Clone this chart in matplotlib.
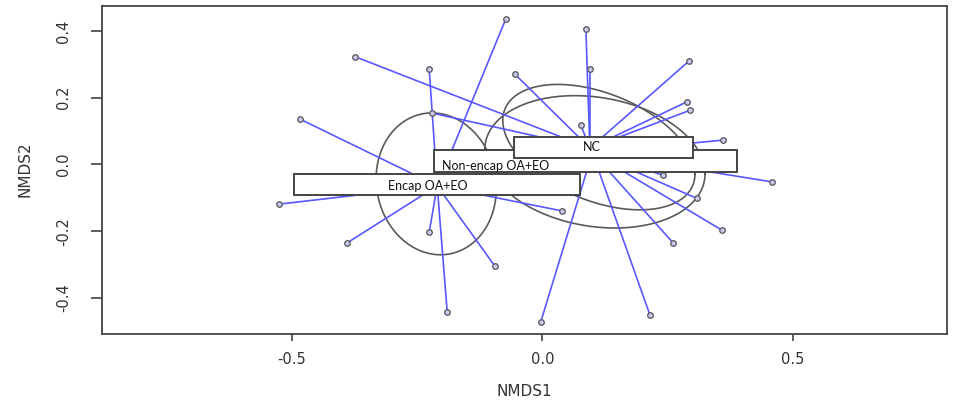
import matplotlib
matplotlib.use('Agg')
import matplotlib.pyplot as plt
import numpy as np
from matplotlib.patches import Rectangle

# ---------------- data ----------------
group_names = ["Encap OA+EO", "Non-encap OA+EO", "NC"]

encap_x = [-0.073, -0.226, -0.484, -0.527, -0.391, -0.226, -0.095, -0.190, 0.039]
encap_y = [0.436, 0.286, 0.136, -0.119, -0.236, -0.203, -0.304, -0.442, -0.139]

nonencap_x = [0.360, 0.458, 0.241, -0.003, 0.215, 0.262, 0.358, 0.308]
nonencap_y = [0.073, -0.052, -0.032, -0.471, -0.451, -0.236, -0.196, -0.101]

nc_x = [-0.374, -0.055, 0.087, 0.095, 0.077, -0.220, 0.293, 0.289, 0.296]
nc_y = [0.323, 0.271, 0.406, 0.286, 0.118, 0.154, 0.310, 0.188, 0.163]

# spider centroids
centroid_x = [-0.210, 0.100, 0.095]
centroid_y = [-0.064, 0.035, 0.049]

# ellipse centres, semi-axes and shear
ell_cx = [-0.212, 0.105, 0.113]
ell_cy = [-0.058, 0.008, 0.052]
ell_ax = [0.120, 0.220, 0.192]
ell_ay = [0.212, 0.195, 0.170]
ell_shear = [-0.015, -0.036, -0.080]

x_ticks = [-0.5, 0.0, 0.5]
x_ticklabels = ["-0.5", "0.0", "0.5"]
y_ticks = [-0.4, -0.2, 0.0, 0.2, 0.4]
y_ticklabels = ["-0.4", "-0.2", "0.0", "0.2", "0.4"]

# ---------------- layout ----------------
W, H = 957, 404
fig = plt.figure(figsize=(W / 100, H / 100), dpi=100)
ax = fig.add_axes([102 / W, 1 - 334 / H, 845 / W, 328 / H])
ax.set_xlim(-0.8796, 0.8084)
ax.set_ylim(-0.5079, 0.4749)

line_col = '#5858ff'
groups_x = [encap_x, nonencap_x, nc_x]
groups_y = [encap_y, nonencap_y, nc_y]

t = np.linspace(0, 2 * np.pi, 300)
for cx, cy, a, b, s in zip(ell_cx, ell_cy, ell_ax, ell_ay, ell_shear):
    ex = cx + a * np.cos(t)
    ey = cy + b * np.sin(t) + s * np.cos(t)
    ax.plot(ex, ey, color='#5a5a5a', lw=1.2, zorder=2)

for gx, gy, cx, cy in zip(groups_x, groups_y, centroid_x, centroid_y):
    for px, py in zip(gx, gy):
        ax.plot([cx, px], [cy, py], color=line_col, lw=1.2, zorder=2.5,
                solid_capstyle='round')
    ax.plot(gx, gy, 'o', ms=4, mfc='#c8c8f0', mec='#555555', mew=0.9, zorder=3)

# label boxes (as drawn in the picture)
boxes = [  # x0, x1, y0, y1, text x, text y
    (-0.496, 0.075, -0.0914, -0.0285, -0.228, -0.0644),
    (-0.216, 0.388, -0.0234, 0.0434, -0.0925, -0.0036),
    (-0.056, 0.302, 0.0204, 0.0833, 0.0987, 0.0524),
]
for i, (name, (x0, x1, y0, y1, tx, ty)) in enumerate(zip(group_names, boxes)):
    z = 4 + i
    ax.add_patch(Rectangle((x0, y0), x1 - x0, y1 - y0, facecolor='white',
                           edgecolor='#444444', lw=1.4, zorder=z))
    ax.text(tx, ty, name, ha='center', va='center', fontsize=9,
            family='Lato', color='#111111', zorder=z + 0.5)

for sp in ax.spines.values():
    sp.set_color('#444444')
    sp.set_linewidth(1.3)

ax.set_xticks(x_ticks)
ax.set_xticklabels(x_ticklabels)
ax.set_yticks(y_ticks)
ax.set_yticklabels(y_ticklabels, rotation=90, va='center')
ax.tick_params(axis='x', length=5, width=1.2, pad=8, labelsize=10.5,
               colors='#444444', labelcolor='#333333')
ax.tick_params(axis='y', length=8, width=1.2, pad=14, labelsize=10.5,
               colors='#444444', labelcolor='#333333')

fig.text(524.5 / W, 1 - 391 / H, "NMDS1", ha='center', va='center',
         fontsize=11, color='#333333')
fig.text(25 / W, 1 - 169 / H, "NMDS2", ha='center', va='center',
         rotation=90, fontsize=11, color='#333333')

fig.savefig('out.png', dpi=100)
